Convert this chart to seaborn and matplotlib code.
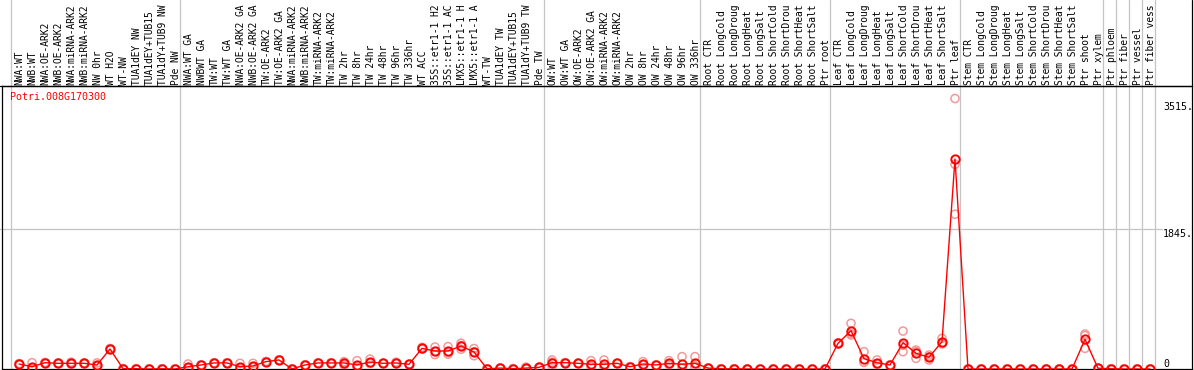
import numpy as np
import pandas as pd
import matplotlib
matplotlib.use("Agg")
import matplotlib.pyplot as plt
import seaborn as sns

# ---------------- data ----------------
# column labels as visible in the reference (long ones are cut at the top edge)
samples = [
    "NWA:WT", "NWB:WT", "NWA:OE-ARK2", "NWB:OE-ARK2", "NWA:miRNA-ARK2", "NWB:miRNA-ARK2",
    "NW 0hr", "WT H2O", "WT-NW", "TUA1dEY NW", "TUA1dEY+TUB15", "TUA1dY+TUB9 NW", "Pde NW",
    "NWA:WT GA", "NWBWT GA", "TW:WT", "TW:WT GA", "NWA:OE-ARK2 GA", "NWB:OE-ARK2 GA",
    "TW:OE-ARK2", "TW:OE-ARK2 GA", "NWA:miRNA-ARK2", "NWB:miRNA-ARK2", "TW:miRNA-ARK2",
    "TW:miRNA-ARK2", "TW 2hr", "TW 8hr", "TW 24hr", "TW 48hr", "TW 96hr", "TW 336hr",
    "WT ACC", "35S::etr1-1 H2", "35S::etr1-1 AC", "LMX5::etr1-1 H", "LMX5::etr1-1 A",
    "WT-TW", "TUA1dEY TW", "TUA1dEY+TUB15", "TUA1dY+TUB9 TW", "Pde TW",
    "OW:WT", "OW:WT GA", "OW:OE-ARK2", "OW:OE-ARK2 GA", "OW:miRNA-ARK2", "OW:miRNA-ARK2",
    "OW 2hr", "OW 8hr", "OW 24hr", "OW 48hr", "OW 96hr", "OW 336hr",
    "Root CTR", "Root LongCold", "Root LongDroug", "Root LongHeat", "Root LongSalt",
    "Root ShortCold", "Root ShortDrou", "Root ShortHeat", "Root ShortSalt", "Ptr root",
    "Leaf CTR", "Leaf LongCold", "Leaf LongDroug", "Leaf LongHeat", "Leaf LongSalt",
    "Leaf ShortCold", "Leaf ShortDrou", "Leaf ShortHeat", "Leaf ShortSalt", "Ptr leaf",
    "Stem CTR", "Stem LongCold", "Stem LongDroug", "Stem LongHeat", "Stem LongSalt",
    "Stem ShortCold", "Stem ShortDrou", "Stem ShortHeat", "Stem ShortSalt", "Ptr shoot",
    "Ptr xylem", "Ptr phloem", "Ptr fiber", "Ptr vessel", "Ptr fiber vess",
]

mean_expr = [
    66, 30, 83, 75, 75, 75, 53, 264, 4, 4, 0, 3, 0,
    30, 53, 80, 80, 30, 40, 97, 119, 0, 53, 80, 80, 80, 53, 92, 75, 80, 62,
    272, 237, 237, 303, 224, 3, 12, 4, 12, 22,
    83, 83, 75, 62, 62, 75, 30, 66, 53, 75, 62, 75,
    12, 3, 2, 0, 0, 0, 0, 0, 0, 0,
    338, 505, 136, 83, 53, 347, 207, 154, 360, 2768,
    0, 0, 0, 0, 0, 0, 0, 0, 0, 391,
    10, 3, 0, 0, 0,
]

rep_a = [
    66, 83, 80, 70, 90, 80, 80, 270, 4, 4, 0, 3, 0,
    66, 53, 80, 80, 75, 75, 97, 119, 0, 53, 80, 80, 97, 110, 130, 75, 90, 62,
    285, 290, 295, 340, 270, 3, 12, 4, 25, 22,
    119, 83, 75, 110, 119, 75, 30, 97, 53, 110, 163, 163,
    12, 3, 2, 0, 0, 0, 0, 0, 0, 0,
    340, 602, 228, 119, 53, 500, 230, 184, 404, 3565,
    0, 0, 0, 0, 0, 0, 0, 0, 0, 461,
    10, 3, 0, 0, 0,
]

rep_b = [
    60, 5, 86, 80, 65, 75, 40, 255, 4, 4, 0, 3, 0,
    12, 53, 80, 80, 8, 22, 97, 119, 0, 53, 80, 80, 53, 25, 72, 75, 75, 62,
    265, 190, 195, 260, 175, 3, 12, 4, 5, 22,
    40, 83, 75, 40, 35, 75, 30, 50, 53, 57, 12, 40,
    12, 3, 2, 0, 0, 0, 0, 0, 0, 0,
    330, 448, 92, 70, 53, 228, 141, 119, 330, 2698,
    0, 0, 0, 0, 0, 0, 0, 0, 0, 272,
    10, 3, 0, 0, 0,
]

rep_c = [
    72, 2, 83, 75, 70, 70, 40, 267, 4, 4, 0, 3, 0,
    12, 53, 80, 80, 8, 22, 97, 119, 0, 53, 80, 80, 75, 25, 75, 75, 75, 62,
    265, 230, 220, 310, 225, 3, 12, 4, 5, 22,
    90, 83, 75, 36, 32, 75, 30, 50, 53, 57, 12, 22,
    12, 3, 2, 0, 0, 0, 0, 0, 0, 0,
    345, 465, 88, 60, 53, 313, 250, 159, 346, 2040,
    0, 0, 0, 0, 0, 0, 0, 0, 0, 440,
    10, 3, 0, 0, 0,
]

group_starts = [0, 13, 41, 53, 63, 73, 84, 85, 86, 87, 88]
ytick_values = [3515, 1845, 0]
ytick_labels = ["3515.", "1845.", "0"]
gene_id = "Potri.008G170300"

# ---------------- figure ----------------
W, H = 1194, 370
sns.set_style("white")
plt.rcParams["font.family"] = ["DejaVu Sans Mono", "DejaVu Sans"]

fig = plt.figure(figsize=(W / 100, H / 100), dpi=100)
fig.patch.set_facecolor("white")
ax = fig.add_axes([2 / W, 1 / H, 1190 / W, 283 / H])
ax.set_facecolor("white")

n = len(samples)
idx = np.arange(n)
df_mean = pd.DataFrame({"x": idx, "v": mean_expr})
df_rep = pd.DataFrame({
    "x": np.tile(idx, 3),
    "v": np.concatenate([rep_a, rep_b, rep_c]),
})

RED = "#ff0000"
PINK = "#f29a9a"

sns.scatterplot(data=df_rep, x="x", y="v", ax=ax, marker="o", s=34,
                facecolors="none", edgecolor=PINK, linewidth=1.1,
                zorder=3, legend=False, clip_on=True)
sns.lineplot(data=df_mean, x="x", y="v", ax=ax, color=RED, lw=1.0,
             marker="o", markersize=6, markerfacecolor="none",
             markeredgecolor=RED, markeredgewidth=1.4, zorder=4)

# limits (pixel-matched)
ax.set_xlim(-17 / 13, 1173 / 13)
ax.set_ylim(0, 3730)
ax.set_xticks([])
ax.set_yticks([])
ax.set_xlabel("")
ax.set_ylabel("")

for sp in ax.spines.values():
    sp.set_color("black")
    sp.set_linewidth(0.9)
    sp.set_visible(True)

xt = ax.get_xaxis_transform()
# vertical group separators (extend through label area)
for b in group_starts:
    ax.plot([b - 0.62, b - 0.62], [0, 369 / 283], transform=xt, color="#c4c4c4",
            lw=0.9, clip_on=False, zorder=1)

# horizontal reference line
ax.axhline(1845, xmin=-2 / 1190, xmax=1160 / 1190, color="#c4c4c4", lw=0.9,
           clip_on=False, zorder=1)

# border extensions
ax.plot([1, 1], [1, 369 / 283], transform=ax.transAxes, color="black", lw=0.9, clip_on=False)
ax.plot([-2 / 1190, 1], [1, 1], transform=ax.transAxes, color="black", lw=0.9, clip_on=False)

# column labels
for i, lab in enumerate(samples):
    ax.text(i + 0.05, (369 - 85) / 283, lab, transform=xt, rotation=90, ha="center",
            va="bottom", fontsize=6.95, color="black", clip_on=False)

# value labels on the right
yt = ax.get_yaxis_transform()
for v, lab in zip(ytick_values, ytick_labels):
    ax.text((1163 - 2) / 1190, v, lab, transform=yt, ha="left",
            va="top" if v > 0 else "bottom", fontsize=7.2, color="black")

fig.text(10 / W, 1 - 97 / H, gene_id, color=RED, fontsize=7.2, ha="left", va="center")

fig.savefig("out.png", dpi=100, facecolor="white")
